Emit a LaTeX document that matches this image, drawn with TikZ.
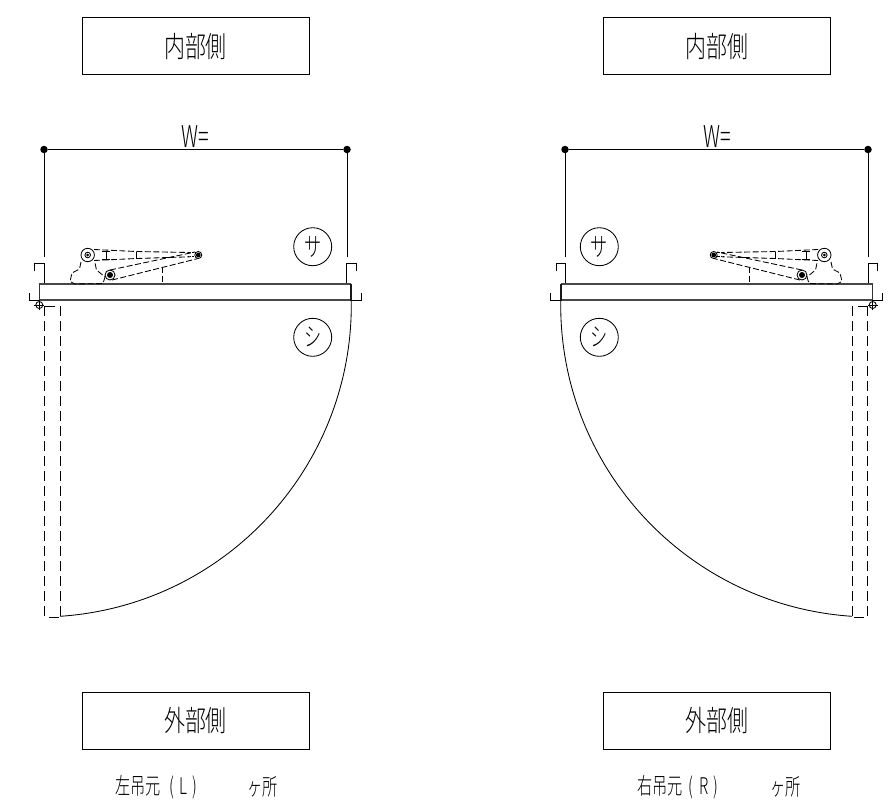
\documentclass[tikz,border=0pt]{standalone}
\usepackage{fontspec}
\newfontfamily\cad[FakeStretch=0.72]{Noto Sans CJK JP Light}
\newfontfamily\cadn[FakeStretch=0.66]{Noto Sans CJK JP Light}
\newcommand{\doorplanshapes}{%
    \draw[thin line] (34.7,271) -- (34.7,263.5) -- (44,263.5) -- (44,284);
    \draw[thin line] (29.3,293) -- (29.3,300.7) -- (39.3,300.7);
    \draw[thin line] (356,271) -- (356,263.5) -- (346.7,263.5) -- (346.7,284);
    \draw[thin line] (351.3,300.7) -- (361.8,300.7) -- (361.8,293);
    \draw[panel line] (39.3,284.3) -- (351.3,284.3);
    \draw[panel line] (39.3,300) -- (351.3,300);
    \draw[edge line] (39.3,284) -- (39.3,300.3);
    \draw[hinge line] (351.3,283.6) -- (351.3,300.6);
    \draw[thin line] (39.3,305) circle[radius=3.5];
    \draw[thin line] (34.3,305) -- (44.3,305) (39.3,300) -- (39.3,310);
    \draw[thin line] (39.3,305) ++(-0.9:312) arc[start angle=-0.9,end angle=86.2,radius=312];
    \draw[hidden line] (44.5,306) -- (60,306);
    \draw[hidden line] (44.5,306) -- (44.5,617) -- (60,617);
    \draw[hidden line] (60,306) -- (60,617);
    \draw[arm line] (81,262) -- (79.5,269) -- (72,273) -- (70,281.5) -- (75,284) -- (103,283.5) -- (105,277) -- (96.5,270) -- (95,263);
    \draw[thin line] (87.7,255) circle[radius=6.7];
    \draw[thin line] (87.7,255) circle[radius=2.8];
    \fill[black] (87.7,255) circle[radius=1.5];
    \draw[thin line] (110,275) circle[radius=5];
    \fill[black] (110,275) circle[radius=3];
    \draw[thin line] (198.3,255) circle[radius=3.5];
    \fill[black] (198.3,255) circle[radius=2.4];
    \draw[arm line] (94,249.5) -- (136.5,251.5) -- (190,252.5);
    \draw[arm line] (94,260.5) -- (136.5,258.5) -- (190,256.8);
    \draw[thin line] (136.5,251.5) -- (136.5,258.5);
    \draw[thin line] (106,251) -- (106,259.5) (102,251) -- (110,251) (102,259.5) -- (110,259.5);
    \draw[line width=1.1pt,black,dash pattern=on 1.2pt off 1pt] (188,252.5) -- (195,252.5) (188,256.8) -- (195,256.8);
    \draw[arm line] (110,270) -- (195,252);
    \draw[arm line] (112,280) -- (198,258.5);
    \draw[arm line] (162.7,267) -- (162.7,284);
}
\tikzset{
  thin line/.style={line width=0.85pt,black},
  panel line/.style={line width=1.7pt,black!72},
  edge line/.style={line width=1.4pt,black!80},
  hinge line/.style={line width=1.9pt,black!90},
  hidden line/.style={line width=0.85pt,black,dash pattern=on 10pt off 5pt},
  arm line/.style={line width=0.85pt,black,dash pattern=on 6pt off 2.5pt},
  label box/.style={draw,line width=0.9pt,black,minimum width=227pt,minimum height=56.5pt,inner sep=0pt,text=black,font=\cad\fontsize{29}{29}\selectfont},
  side mark/.style={circle,draw,line width=0.85pt,black,minimum size=38pt,inner sep=0pt,text=black,font=\cadn\fontsize{26}{26}\selectfont},
  end dot/.style={circle,fill=black,inner sep=0pt,minimum size=7.5pt},
  plain text/.style={inner sep=0pt,text=black,font=\cadn\fontsize{23}{23}\selectfont},
  dim text/.style={inner sep=0pt,text=black,font=\cadn\fontsize{30}{30}\selectfont}
}
\begin{document}
\begin{tikzpicture}[x=1pt,y=1pt,yscale=-1]
\useasboundingbox (0,0) rectangle (890,809);
\fill[white] (0,0) rectangle (890,809);
\begin{scope}
\doorplanshapes
\end{scope}
\begin{scope}[shift={(912,0)},xscale=-1]
\doorplanshapes
\end{scope}

% left side
\node[label box] (topL) at (195.5,46) {内部側};
\node[end dot] (wL1) at (44,149.5) {};
\node[end dot] (wL2) at (347,149.5) {};
\coordinate (eL1) at (44,257);
\coordinate (eL2) at (347,257);
\draw[thin line] (wL1) -- (wL2);
\draw[thin line] (wL1) -- (eL1);
\draw[thin line] (wL2) -- (eL2);
\node[dim text] (wtL) at (195.5,137) {W=};
\node[side mark] (saL) at (312.7,246.7) {サ};
\node[side mark] (siL) at (312.7,337.3) {シ};
\node[label box] (botL) at (195.5,720.7) {外部側};
\node[plain text] (capL) at (156.5,787) {左吊元\hspace{8pt}(\hspace{6pt}L\hspace{5pt})};
\node[plain text] (unitL) at (262.5,787) {ヶ所};

% right side
\node[label box] (topR) at (717,46) {内部側};
\node[end dot] (wR1) at (565,149.5) {};
\node[end dot] (wR2) at (868,149.5) {};
\coordinate (eR1) at (565,257);
\coordinate (eR2) at (868,257);
\draw[thin line] (wR1) -- (wR2);
\draw[thin line] (wR1) -- (eR1);
\draw[thin line] (wR2) -- (eR2);
\node[dim text] (wtR) at (717,137) {W=};
\node[side mark] (saR) at (599.3,246.7) {サ};
\node[side mark] (siR) at (599.3,337.3) {シ};
\node[label box] (botR) at (717,720.7) {外部側};
\node[plain text] (capR) at (678,787) {右吊元\hspace{6pt}(\hspace{6pt}R\hspace{5pt})};
\node[plain text] (unitR) at (785.5,787) {ヶ所};
\end{tikzpicture}
\end{document}
